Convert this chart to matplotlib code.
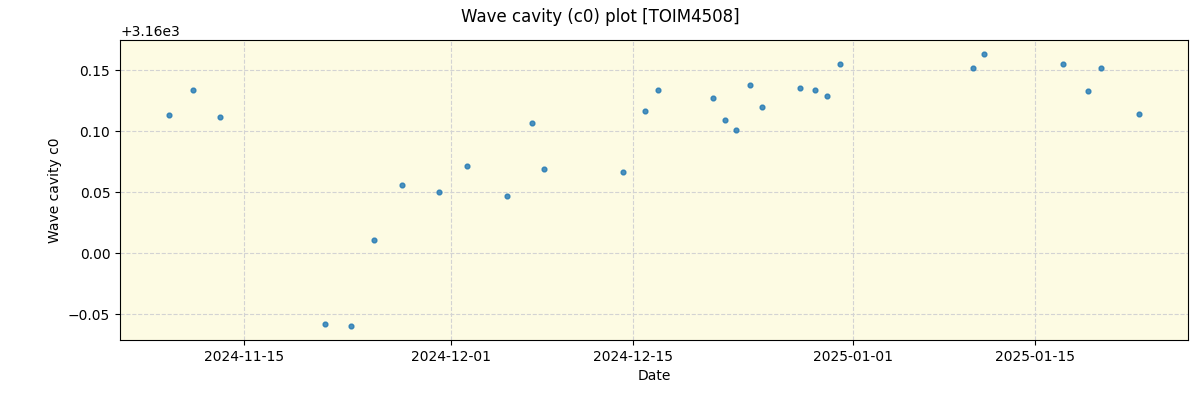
import matplotlib
matplotlib.use("Agg")
import matplotlib.pyplot as plt
import matplotlib.dates as mdates
import pandas as pd

dates = pd.to_datetime([
    "2024-11-09 05:00", "2024-11-11 03:00", "2024-11-13 05:00",
    "2024-11-21 06:00", "2024-11-23 06:00", "2024-11-25 02:00",
    "2024-11-27 05:00", "2024-11-30 01:00", "2024-12-02 06:00",
    "2024-12-05 08:00", "2024-12-07 06:00", "2024-12-08 04:00",
    "2024-12-14 06:00", "2024-12-15 22:00", "2024-12-16 22:00",
    "2024-12-21 04:00", "2024-12-22 02:00", "2024-12-23 00:00",
    "2024-12-24 02:00", "2024-12-25 00:00", "2024-12-27 22:00",
    "2024-12-29 02:00", "2024-12-30 00:00", "2024-12-31 00:00",
    "2025-01-10 05:00", "2025-01-11 03:00", "2025-01-17 04:00",
    "2025-01-19 02:00", "2025-01-20 02:00", "2025-01-23 02:00",
])

# wave cavity c0 minus 3160
c0_offset = [
    0.1136, 0.1340, 0.1120,
    -0.0584, -0.0600, 0.0107,
    0.0560, 0.0500, 0.0716,
    0.0470, 0.1070, 0.0690,
    0.0667, 0.1170, 0.1340,
    0.1276, 0.1095, 0.1010,
    0.1380, 0.1200, 0.1358,
    0.1340, 0.1290, 0.1556,
    0.1520, 0.1638, 0.1556,
    0.1333, 0.1520, 0.1144,
]
c0 = [3160 + v for v in c0_offset]

fig, ax = plt.subplots(figsize=(12, 4), dpi=100)
fig.subplots_adjust(left=0.1, right=0.99, top=0.9, bottom=0.15)

ax.set_facecolor('#fdfbe3')
ax.scatter(dates, c0, s=12, color='tab:blue', alpha=0.8, zorder=3)
ax.grid(True, color='lightgray', linestyle='--', linewidth=0.8)
ax.set_axisbelow(True)

ax.xaxis.set_major_locator(mdates.DayLocator(bymonthday=[1, 15]))
ax.xaxis.set_major_formatter(mdates.DateFormatter('%Y-%m-%d'))

ax.set_xlabel('Date')
ax.set_ylabel('Wave cavity c0')
fig.suptitle('Wave cavity (c0) plot [TOIM4508]')

plt.savefig('out.png')
